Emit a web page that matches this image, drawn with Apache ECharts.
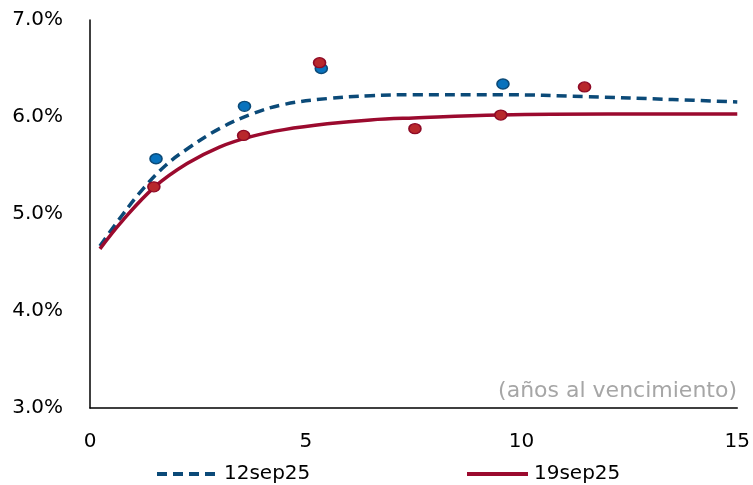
<!DOCTYPE html>
<html>
<head>
<meta charset="utf-8">
<script src="https://cdn.jsdelivr.net/npm/echarts@6/dist/echarts.min.js"></script>
<style>
  html, body { margin: 0; padding: 0; background: #fff; }
  #chart { width: 753px; height: 485px; }
</style>
</head>
<body>
<div id="chart"></div>
<script>
// curvas ajustadas: [años, tasa %]
var curva12sep = [
  [0.23, 4.67], [0.75, 4.99], [1.25, 5.27], [1.75, 5.50], [2.25, 5.67],
  [3.0, 5.88], [3.75, 6.03], [4.5, 6.13], [5.5, 6.19], [6.5, 6.22],
  [7.5, 6.23], [9.5, 6.23], [11.5, 6.21], [13.5, 6.18], [15, 6.155]
]
var curva19sep = [
  [0.23, 4.64], [0.75, 4.93], [1.5, 5.28], [2.25, 5.52], [3.0, 5.69],
  [3.75, 5.80], [4.5, 5.87], [5.5, 5.93], [6.5, 5.97], [7.5, 5.99],
  [9.5, 6.02], [12, 6.03], [15, 6.03]
]
// observaciones
var puntos12sep = [[1.53, 5.57], [3.58, 6.11], [5.36, 6.50], [9.57, 6.34]]
var puntos19sep = [[1.48, 5.28], [3.56, 5.81], [5.32, 6.56], [7.53, 5.88], [9.52, 6.02], [11.46, 6.31]]

var xTicks = [0, 5, 10, 15]
var yTicks = [3, 4, 5, 6, 7]

var chart = echarts.init(document.getElementById('chart'), null, { renderer: 'canvas' })

var fontTick = '"DejaVu Sans", sans-serif'

function leyenda(nombre, left) {
  return {
    data: [nombre],
    left: left,
    top: 459,
    itemWidth: 61,
    itemHeight: 4,
    itemStyle: { opacity: 0 },
    lineStyle: { width: 4 },
    textStyle: { fontFamily: fontTick, fontSize: 20, color: '#000', padding: [0, 0, 0, 1] }
  }
}

var option = {
  animation: false,
  backgroundColor: '#fff',
  grid: { left: 90, right: 14, top: 20, bottom: 77 },
  legend: [leyenda('12sep25', 150), leyenda('19sep25', 460)],
  xAxis: {
    type: 'value',
    min: xTicks[0],
    max: xTicks[xTicks.length - 1],
    interval: 5,
    splitLine: { show: false },
    axisTick: { show: false },
    axisLine: { lineStyle: { color: '#000', width: 1.5 } },
    axisLabel: { color: '#000', fontSize: 20, fontFamily: fontTick, margin: 24 }
  },
  yAxis: {
    type: 'value',
    min: yTicks[0],
    max: yTicks[yTicks.length - 1],
    interval: 1,
    splitLine: { show: false },
    axisTick: { show: false },
    axisLine: { show: true, lineStyle: { color: '#000', width: 1.5 } },
    axisLabel: {
      color: '#000', fontSize: 20, fontFamily: fontTick, margin: 27,
      formatter: function (v) { return v.toFixed(1) + '%' }
    }
  },
  graphic: [{
    type: 'text',
    right: 16,
    top: 380,
    style: {
      text: '(años al vencimiento)',
      fill: '#a6a6a6',
      font: '22px "DejaVu Sans", sans-serif'
    }
  }],
  series: [
    {
      name: '12sep25',
      type: 'line',
      smooth: 0.4,
      symbol: 'none',
      data: curva12sep,
      lineStyle: { color: '#0b4a78', width: 3.5, type: [10, 6] },
      itemStyle: { color: '#0b4a78' },
      z: 3
    },
    {
      name: '19sep25',
      type: 'line',
      smooth: 0.4,
      symbol: 'none',
      data: curva19sep,
      lineStyle: { color: '#9b0a2e', width: 3.5 },
      itemStyle: { color: '#9b0a2e' },
      z: 3
    },
    {
      name: 'obs12',
      type: 'scatter',
      data: puntos12sep,
      symbol: 'circle',
      symbolSize: [12, 10],
      itemStyle: { color: '#0872bd', borderColor: '#0b4a78', borderWidth: 1.5, opacity: 1 },
      z: 4
    },
    {
      name: 'obs19',
      type: 'scatter',
      data: puntos19sep,
      symbol: 'circle',
      symbolSize: [12, 10],
      itemStyle: { color: '#b8282c', borderColor: '#8e0a26', borderWidth: 1.5, opacity: 1 },
      z: 5
    }
  ]
}

chart.setOption(option)
</script>
</body>
</html>
